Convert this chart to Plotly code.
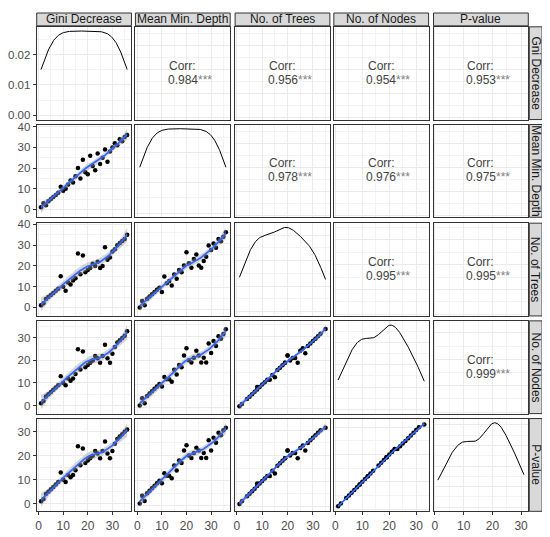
import numpy as np
import plotly.graph_objects as go

# ---------------- data (ranks) ----------------
col_names = ["Gini Decrease", "Mean Min. Depth", "No. of Trees", "No. of Nodes", "P-value"]
row_names = ["Gni Decrease", "Mean Min. Depth", "No. of Trees", "No. of Nodes", "P-value"]

gini_decrease = [1, 2, 3, 4, 5, 6, 7, 8, 9, 10, 11, 12, 13, 14, 15, 16, 17, 18,
                 19, 20, 21, 22, 23, 24, 25, 26, 27, 28, 29, 30, 31, 32, 33, 34, 35, 36]
mean_min_depth = [1, 3, 2, 4, 5, 6, 7, 8, 11, 9, 10, 12, 14, 13, 16, 20, 15, 24,
                  18, 17, 26, 21, 19, 27, 22, 25, 29, 23, 28, 30, 32, 31, 34, 33, 35, 36]
no_of_trees = [1, 2, 4, 5, 6, 7, 8, 9, 15, 10, 8, 12, 11, 13, 14, 26, 16, 25,
               17, 18, 19, 21, 20, 22, 19, 20, 29, 23, 24, 27, 28, 30, 31, 32, 33, 35]
no_of_nodes = [1, 2, 4, 5, 6, 7, 8, 9, 13, 10, 9, 12, 11, 12, 14, 25, 16, 24,
               17, 18, 19, 20, 22, 21, 19, 22, 27, 21, 19, 23, 26, 28, 29, 30, 31, 33]
p_value = [1, 2, 4, 5, 6, 7, 8, 9, 13, 10, 9, 12, 11, 12, 14, 24, 16, 23,
           17, 18, 19, 20, 22, 21, 19, 22, 26, 21, 19, 22, 25, 27, 28, 29, 30, 31]

# correlation labels for the upper panels
corr_rows = [0, 0, 0, 0, 1, 1, 1, 2, 2, 3]
corr_cols = [1, 2, 3, 4, 2, 3, 4, 3, 4, 4]
corr_vals = ["0.984", "0.956", "0.954", "0.953", "0.978", "0.976", "0.975", "0.995", "0.995", "0.999"]
corr_stars = ["***"] * 10

variables = [gini_decrease, mean_min_depth, no_of_trees, no_of_nodes, p_value]

# ---------------- helpers ----------------
def loess_band(x, y, xs, span=0.75, tcrit=2.04):
    x = np.asarray(x, float)
    y = np.asarray(y, float)
    n = len(x)
    q = int(np.floor(n * span))

    def lvec(x0):
        d = np.abs(x - x0)
        h = max(np.sort(d)[q - 1], 1e-9)
        u = np.clip(d / h, 0, 1)
        w = (1 - u ** 3) ** 3
        X = np.column_stack([np.ones(n), x - x0, (x - x0) ** 2])
        XtW = X.T * w
        return np.linalg.solve(XtW @ X, XtW)[0]

    L = np.array([lvec(v) for v in x])
    res = y - L @ y
    IL = np.eye(n) - L
    sigma = np.sqrt(np.sum(res ** 2) / np.trace(IL.T @ IL))
    ls = np.array([lvec(v) for v in xs])
    fit = ls @ y
    se = sigma * np.sqrt(np.sum(ls ** 2, axis=1))
    return fit, fit - tcrit * se, fit + tcrit * se


def kde(x, grid):
    x = np.asarray(x, float)
    n = len(x)
    sd = np.std(x, ddof=1)
    iqr = np.percentile(x, 75) - np.percentile(x, 25)
    bw = 0.9 * min(sd, iqr / 1.34) * n ** (-0.2)
    z = (grid[:, None] - x[None, :]) / bw
    return np.exp(-0.5 * z ** 2).sum(axis=1) / (n * bw * np.sqrt(2 * np.pi))


def expand(lo, hi, m=0.05):
    d = hi - lo
    return [lo - m * d, hi + m * d]

# ---------------- layout geometry (window pixels) ----------------
OFF = 8                      # page body margin of the browser
W, H = 550 - OFF, 537 - OFF  # figure size so the page fits the window
col_px = [(30, 126), (130, 226), (231, 327), (331, 427), (432, 528)]
row_px = [(22, 116), (121, 215), (221, 315), (320, 414), (419, 513)]
strip_top = (8, 21)
strip_right = (529, 542)

def fx(p):
    return (p - OFF) / W

def fy(p):
    return 1 - (p - OFF) / H

FONT = "Liberation Sans, Arial, sans-serif"
GRID = "#ebebeb"
MINOR = "#f3f3f3"
BORDER = "#333333"

fig = go.Figure()
layout = {}
annotations = []
shapes = []

for i in range(5):
    for j in range(5):
        k = i * 5 + j + 1
        xa = "x" if k == 1 else f"x{k}"
        ya = "y" if k == 1 else f"y{k}"
        xv = np.asarray(variables[j], float)
        yv = np.asarray(variables[i], float)
        xr = expand(xv.min(), xv.max())
        density_axis = False
        if i > j:
            xs = np.linspace(xv.min(), xv.max(), 80)
            fit, lo, hi = loess_band(xv, yv, xs)
            fig.add_trace(go.Scatter(x=xv, y=yv, mode="markers", xaxis=xa, yaxis=ya,
                                     marker=dict(color="black", size=4.5), showlegend=False,
                                     hoverinfo="skip"))
            fig.add_trace(go.Scatter(x=np.concatenate([xs, xs[::-1]]),
                                     y=np.concatenate([hi, lo[::-1]]),
                                     fill="toself", fillcolor="rgba(153,153,153,0.4)",
                                     line=dict(width=0), mode="lines", xaxis=xa, yaxis=ya,
                                     showlegend=False, hoverinfo="skip"))
            fig.add_trace(go.Scatter(x=xs, y=fit, mode="lines", xaxis=xa, yaxis=ya,
                                     line=dict(color="#3366FF", width=1.7), showlegend=False,
                                     hoverinfo="skip"))
            yr = expand(min(yv.min(), lo.min()), max(yv.max(), hi.max()))
        elif i == j:
            grid = np.linspace(xv.min(), xv.max(), 200)
            dens = kde(xv, grid)
            fig.add_trace(go.Scatter(x=grid, y=dens, mode="lines", xaxis=xa, yaxis=ya,
                                     line=dict(color="black", width=1), showlegend=False,
                                     hoverinfo="skip"))
            yr = expand(0, dens.max())
            density_axis = True
        else:
            yr = expand(yv.min(), yv.max())
            # invisible anchor trace so the (empty) panel is drawn
            fig.add_trace(go.Scatter(x=[np.mean(xr)], y=[np.mean(yr)], mode="markers",
                                     xaxis=xa, yaxis=ya, marker=dict(opacity=0),
                                     showlegend=False, hoverinfo="skip"))
            idx = [n for n in range(len(corr_rows)) if corr_rows[n] == i and corr_cols[n] == j][0]
            xref = f"{xa} domain"
            yref = f"{ya} domain"
            annotations.append(dict(text="Corr:", xref=xref, yref=yref, x=0.5, y=0.5,
                                    xanchor="center", yanchor="middle",
                                    yshift=7.5, showarrow=False,
                                    font=dict(family=FONT, size=12, color="#444444")))
            annotations.append(dict(text=corr_vals[idx] + "<span style='color:#808080'>"
                                    + corr_stars[idx] + "</span>",
                                    xref=xref, yref=yref, x=0.5, y=0.5,
                                    xanchor="center", yanchor="middle",
                                    xshift=7, yshift=-6.5, showarrow=False,
                                    font=dict(family=FONT, size=12, color="#444444")))

        x0, x1 = col_px[j]
        y0, y1 = row_px[i]
        bottom = (i == 4)
        left = (j == 0)
        xaxis = dict(domain=[fx(x0), fx(x1)], anchor=ya, range=xr,
                     tick0=0, dtick=10, showgrid=True, gridcolor=GRID, gridwidth=1,
                     minor=dict(tick0=0, dtick=5, showgrid=True, gridcolor=MINOR, gridwidth=0.7),
                     zeroline=False, showline=True, mirror=True, linecolor=BORDER, linewidth=1,
                     showticklabels=bottom, ticks="outside" if bottom else "",
                     ticklen=3, tickcolor=BORDER, tickwidth=1,
                     tickfont=dict(family=FONT, size=12, color="#4d4d4d"), fixedrange=True)
        if density_axis:
            ydt, ymin = 0.01, 0.005
        else:
            ydt, ymin = 10, 5
        yaxis = dict(domain=[fy(y1), fy(y0)], anchor=xa, range=yr,
                     tick0=0, dtick=ydt, showgrid=True, gridcolor=GRID, gridwidth=1,
                     minor=dict(tick0=0, dtick=ymin, showgrid=True, gridcolor=MINOR, gridwidth=0.7),
                     zeroline=False, showline=True, mirror=True, linecolor=BORDER, linewidth=1,
                     showticklabels=left, ticks="outside" if left else "",
                     ticklen=3, tickcolor=BORDER, tickwidth=1,
                     tickfont=dict(family=FONT, size=11.5, color="#4d4d4d"), fixedrange=True)
        if density_axis:
            yaxis["tickformat"] = ".2f"
        layout["xaxis" if k == 1 else f"xaxis{k}"] = xaxis
        layout["yaxis" if k == 1 else f"yaxis{k}"] = yaxis

# strips
for j, name in enumerate(col_names):
    x0, x1 = col_px[j]
    shapes.append(dict(type="rect", xref="paper", yref="paper",
                       x0=fx(x0), x1=fx(x1), y0=fy(strip_top[1]), y1=fy(strip_top[0]),
                       fillcolor="#d9d9d9", line=dict(color=BORDER, width=1), layer="below"))
    annotations.append(dict(text=name, xref="paper", yref="paper",
                            x=fx((x0 + x1) / 2), y=fy((strip_top[0] + strip_top[1]) / 2),
                            xanchor="center", yanchor="middle",
                            showarrow=False, font=dict(family=FONT, size=12, color="#1a1a1a")))
for i, name in enumerate(row_names):
    y0, y1 = row_px[i]
    shapes.append(dict(type="rect", xref="paper", yref="paper",
                       x0=fx(strip_right[0]), x1=fx(strip_right[1]), y0=fy(y1), y1=fy(y0),
                       fillcolor="#d9d9d9", line=dict(color=BORDER, width=1), layer="below"))
    annotations.append(dict(text=name, xref="paper", yref="paper", textangle=90,
                            x=fx((strip_right[0] + strip_right[1]) / 2), y=fy((y0 + y1) / 2),
                            xanchor="center", yanchor="middle",
                            showarrow=False, font=dict(family=FONT, size=12, color="#1a1a1a")))

fig.update_layout(width=W, height=H, margin=dict(l=0, r=0, t=0, b=0),
                  paper_bgcolor="white", plot_bgcolor="white", showlegend=False,
                  annotations=annotations, shapes=shapes, **layout)
fig.write_html("out.html")
